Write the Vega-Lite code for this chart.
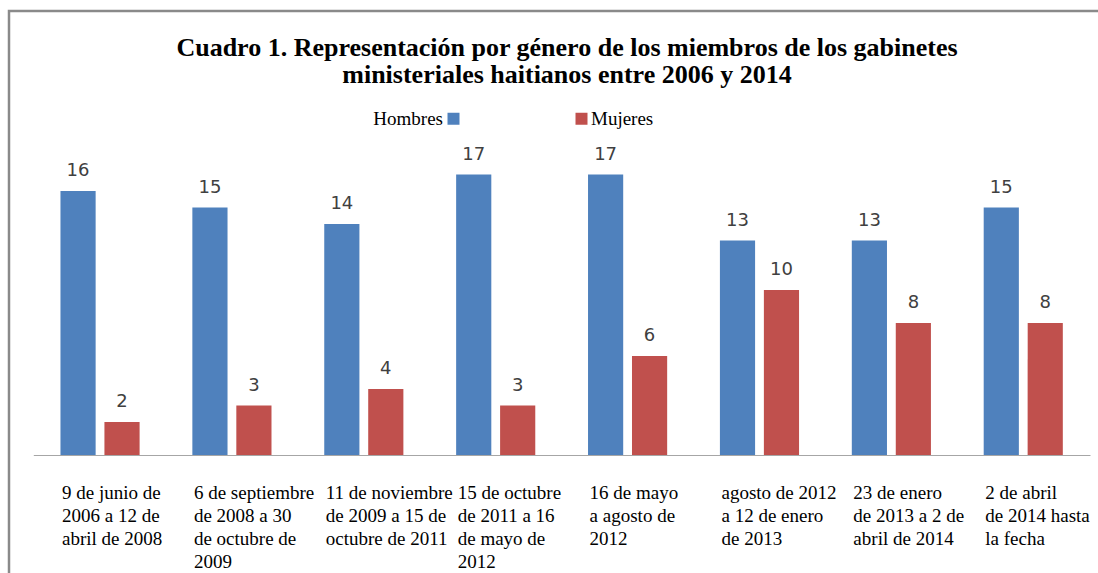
{
  "$schema": "https://vega.github.io/schema/vega-lite/v6.json",
  "width": 1089,
  "height": 562,
  "autosize": {"type": "none"},
  "padding": {"left": 9, "top": 11, "right": 0, "bottom": 0},
  "background": "white",
  "title": {
    "text": ["Cuadro 1. Representación por género de los miembros de los gabinetes", "ministeriales haitianos entre 2006 y 2014"],
    "font": "Liberation Serif",
    "fontSize": 26,
    "fontWeight": "bold",
    "color": "black",
    "anchor": "start",
    "frame": "group",
    "dx": 558,
    "align": "center",
    "lineHeight": 27,
    "offset": -77
  },
  "data": {
    "values": [
      {"periodo": "9 de junio de|2006 a 12 de|abril de 2008", "genero": "Hombres", "n": 16},
      {"periodo": "9 de junio de|2006 a 12 de|abril de 2008", "genero": "Mujeres", "n": 2},
      {"periodo": "6 de septiembre|de 2008 a 30|de octubre de|2009", "genero": "Hombres", "n": 15},
      {"periodo": "6 de septiembre|de 2008 a 30|de octubre de|2009", "genero": "Mujeres", "n": 3},
      {"periodo": "11 de noviembre|de 2009 a 15 de|octubre de 2011", "genero": "Hombres", "n": 14},
      {"periodo": "11 de noviembre|de 2009 a 15 de|octubre de 2011", "genero": "Mujeres", "n": 4},
      {"periodo": "15 de octubre|de 2011 a 16|de mayo de|2012", "genero": "Hombres", "n": 17},
      {"periodo": "15 de octubre|de 2011 a 16|de mayo de|2012", "genero": "Mujeres", "n": 3},
      {"periodo": "16 de mayo| a agosto de|2012", "genero": "Hombres", "n": 17},
      {"periodo": "16 de mayo| a agosto de|2012", "genero": "Mujeres", "n": 6},
      {"periodo": "agosto de 2012|a 12 de enero|de 2013", "genero": "Hombres", "n": 13},
      {"periodo": "agosto de 2012|a 12 de enero|de 2013", "genero": "Mujeres", "n": 10},
      {"periodo": "23 de enero|de 2013 a 2 de|abril de 2014", "genero": "Hombres", "n": 13},
      {"periodo": "23 de enero|de 2013 a 2 de|abril de 2014", "genero": "Mujeres", "n": 8},
      {"periodo": "2 de abril|de 2014 hasta|la fecha", "genero": "Hombres", "n": 15},
      {"periodo": "2 de abril|de 2014 hasta|la fecha", "genero": "Mujeres", "n": 8}
    ]
  },
  "encoding": {
    "x": {
      "field": "periodo",
      "type": "nominal",
      "sort": null,
      "scale": {"range": [24.3, 1081], "paddingInner": 0.4, "paddingOuter": 0.206},
      "axis": {
        "title": null,
        "offset": -118,
        "domainColor": "#a6a6a6",
        "domainWidth": 1,
        "ticks": false,
        "tickSize": 0,
        "labelAngle": 0,
        "labelAlign": "left",
        "labelBaseline": "top",
        "labelOffset": -38,
        "labelPadding": 28,
        "labelFont": "Liberation Serif",
        "labelFontSize": 19,
        "labelColor": "black",
        "labelLineHeight": 23.3,
        "labelExpr": "split(datum.label, '|')",
        "labelLimit": 0,
        "labelOverlap": false,
        "labelBound": false,
        "labelFlush": false
      }
    },
    "xOffset": {
      "field": "genero",
      "type": "nominal",
      "sort": ["Hombres", "Mujeres"],
      "scale": {"paddingInner": 0.2, "paddingOuter": 0}
    },
    "y": {
      "field": "n",
      "type": "quantitative",
      "stack": null,
      "scale": {"domain": [-7.152, 26.909], "nice": false, "zero": false},
      "axis": null
    }
  },
  "layer": [
    {
      "mark": {"type": "bar"},
      "encoding": {
        "y2": {"datum": 0},
        "color": {
          "field": "genero",
          "type": "nominal",
          "sort": ["Hombres", "Mujeres"],
          "scale": {"domain": ["Hombres", "Mujeres"], "range": ["#4F81BD", "#C0504D"]},
          "legend": {
            "title": null,
            "orient": "none",
            "legendX": 435,
            "legendY": 98,
            "direction": "horizontal",
            "padding": 0,
            "symbolType": "square",
            "symbolSize": 144,
            "symbolStrokeWidth": 0,
            "symbolOpacity": 1,
            "labelFont": "Liberation Serif",
            "labelFontSize": 19,
            "labelColor": "black",
            "labelOffset": 0,
            "columnPadding": 112,
            "labelLimit": 0,
            "encode": {
              "labels": {
                "update": {
                  "align": {"signal": "datum.label === 'Hombres' ? 'right' : 'left'"},
                  "dx": {"signal": "datum.label === 'Hombres' ? -20 : 0"}
                }
              }
            }
          }
        }
      }
    },
    {
      "mark": {
        "type": "text",
        "baseline": "alphabetic",
        "dy": -14.5,
        "font": "DejaVu Sans",
        "fontSize": 18,
        "color": "#404040"
      },
      "encoding": {
        "text": {"field": "n", "type": "quantitative"}
      }
    }
  ],
  "config": {
    "view": {"stroke": "#8a8a8a", "strokeWidth": 2.5, "strokeDash": [1089, 1651, 562, 1]}
  }
}
